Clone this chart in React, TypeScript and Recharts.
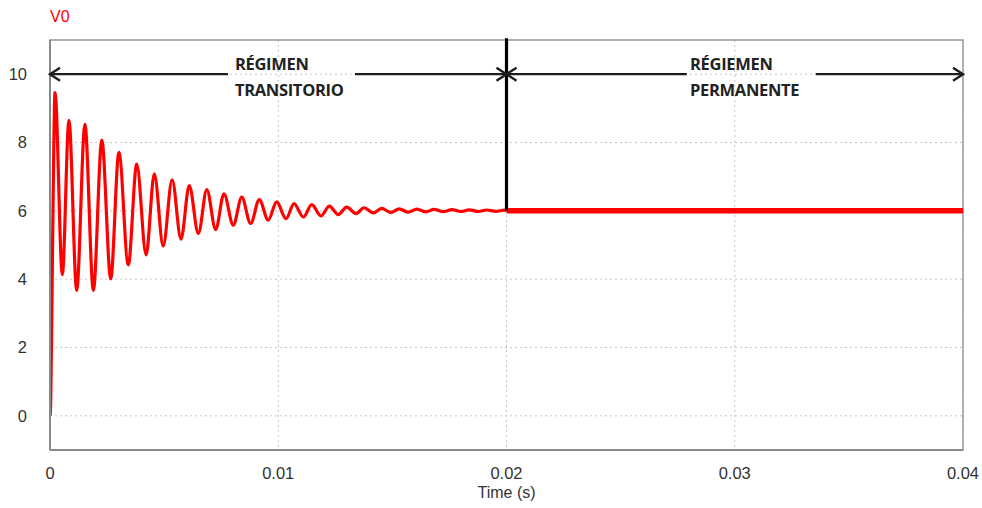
import React from 'react';
import {
  LineChart,
  Line,
  XAxis,
  YAxis,
  CartesianGrid,
  ReferenceLine,
  ReferenceDot,
  ReferenceArea,
} from 'recharts';

// Transient response (time in s, voltage in V)
const transientTime = [
  0, 0.00003, 0.00008, 0.00014, 0.00022, 0.00054, 0.00083, 0.00117, 0.00153, 0.0019,
  0.00227, 0.00266, 0.00302, 0.00343, 0.0038, 0.00421, 0.00457, 0.00496, 0.00535, 0.00574,
  0.0061, 0.0065, 0.00687, 0.00726, 0.00762, 0.00803, 0.0084, 0.00879, 0.00917, 0.00956,
  0.00993, 0.01034, 0.01069, 0.0111, 0.01147, 0.01187, 0.01224, 0.01263, 0.013, 0.01341,
  0.01376, 0.01416, 0.01453, 0.01494, 0.0153, 0.0157, 0.01607, 0.01647, 0.01682, 0.01723,
  0.0176, 0.01801, 0.01836, 0.01876, 0.01913, 0.01954, 0.01989, 0.02,
];
const transientV = [
  0, 0.4, 3.0, 6.5, 9.46, 4.13, 8.65, 3.67, 8.53, 3.67,
  8.07, 4.01, 7.71, 4.42, 7.37, 4.71, 7.08, 4.97, 6.91, 5.17,
  6.74, 5.34, 6.62, 5.45, 6.5, 5.58, 6.4, 5.63, 6.33, 5.73,
  6.26, 5.77, 6.21, 5.82, 6.18, 5.85, 6.14, 5.89, 6.11, 5.92,
  6.09, 5.94, 6.07, 5.95, 6.06, 5.96, 6.05, 5.97, 6.04, 5.975,
  6.035, 5.98, 6.03, 5.98, 6.025, 5.985, 6.02, 6.0,
];

// Steady state
const steadyTime = [0.02, 0.04];
const steadyV = [6.0, 6.0];

// Axis ticks
const xTicks = [0, 0.01, 0.02, 0.03, 0.04];
const yTicks = [0, 2, 4, 6, 8, 10];

// Annotation positions (data coordinates)
const arrowY = 10;
const transLabel = { x: 0.0081, lines: ['RÉGIMEN', 'TRANSITORIO'] };
const permLabel = { x: 0.02804, lines: ['RÉGIEMEN', 'PERMANENTE'] };
const leftArrowSegments = [
  [0, 0.0078],
  [0.01336, 0.02],
];
const rightArrowSegments = [
  [0.02, 0.0279],
  [0.03355, 0.04],
];

const transientData = transientTime.map((t, i) => ({ t, v: transientV[i] }));
const steadyData = steadyTime.map((t, i) => ({ t, v: steadyV[i] }));

const ARROW_COLOR = '#1e1e1e';
const AXIS_FONT = "'Liberation Sans', Arial, sans-serif";

const ArrowHead = (dir: 'left' | 'right' | 'both') => (props: any) => {
  const { cx, cy } = props;
  const L = 10;
  const H = 6.5;
  const paths: string[] = [];
  if (dir === 'left' || dir === 'both') {
    paths.push(`M ${cx + L} ${cy - H} L ${cx} ${cy} L ${cx + L} ${cy + H}`);
  }
  if (dir === 'right' || dir === 'both') {
    paths.push(`M ${cx - L} ${cy - H} L ${cx} ${cy} L ${cx - L} ${cy + H}`);
  }
  return (
    <g>
      {paths.map((d, i) => (
        <path key={i} d={d} fill="none" stroke={ARROW_COLOR} strokeWidth={2.4} />
      ))}
    </g>
  );
};

const TwoLineLabel = (lines: string[]) => (props: any) => {
  const { cx, cy } = props;
  const common = {
    fontFamily: "'Open Sans', sans-serif",
    fontWeight: 700,
    fontSize: 16.5,
    fill: '#222',
    letterSpacing: -0.3,
  } as const;
  return (
    <g>
      <text x={cx} y={cy - 4} {...common}>
        {lines[0]}
      </text>
      <text x={cx} y={cy + 22} {...common}>
        {lines[1]}
      </text>
    </g>
  );
};

export default function App() {
  return (
    <div style={{ position: 'absolute', left: 0, top: 0, width: 982, height: 508, background: '#fff' }}>
      <div
        style={{
          position: 'absolute',
          left: 50,
          top: 8,
          color: '#ff0000',
          fontFamily: AXIS_FONT,
          fontSize: 16,
          lineHeight: '18px',
        }}
      >
        V0
      </div>
      <LineChart width={982} height={508} margin={{ top: 40, right: 19, bottom: 18, left: 10 }}>
        <CartesianGrid stroke="#c4c4c4" strokeDasharray="2 3" />
        <XAxis
          type="number"
          dataKey="t"
          domain={[0, 0.04]}
          ticks={xTicks}
          allowDataOverflow
          height={40}
          tickLine={false}
          tickSize={0}
          tickMargin={17}
          axisLine={{ stroke: '#8a8a8a', strokeWidth: 2 }}
          tick={{ fontSize: 16.5, fill: '#333', fontFamily: AXIS_FONT }}
          label={{
            value: 'Time (s)',
            position: 'insideBottom',
            offset: -8,
            style: { fontSize: 16, fill: '#333', fontFamily: AXIS_FONT },
          }}
        />
        <YAxis
          type="number"
          domain={[-1, 11]}
          ticks={yTicks}
          allowDataOverflow
          width={40}
          tickLine={false}
          tickSize={0}
          tickMargin={23}
          axisLine={{ stroke: '#8a8a8a', strokeWidth: 2 }}
          tick={{ fontSize: 16.5, fill: '#333', fontFamily: AXIS_FONT }}
        />
        <ReferenceArea x1={0} x2={0.04} y1={-1} y2={11} fill="none" stroke="#9a9a9a" strokeWidth={1.5} />
        <Line
          data={transientData}
          dataKey="v"
          type="monotone"
          stroke="#ff0000"
          strokeWidth={3.2}
          dot={false}
          isAnimationActive={false}
        />
        <Line
          data={steadyData}
          dataKey="v"
          type="linear"
          stroke="#ff0000"
          strokeWidth={5.5}
          dot={false}
          isAnimationActive={false}
        />
        {leftArrowSegments.concat(rightArrowSegments).map(([a, b], i) => (
          <ReferenceLine
            key={'seg' + i}
            segment={[
              { x: a, y: arrowY },
              { x: b, y: arrowY },
            ]}
            stroke={ARROW_COLOR}
            strokeWidth={2.4}
            ifOverflow="visible"
          />
        ))}
        <ReferenceLine
          segment={[
            { x: 0.02, y: 6 },
            { x: 0.02, y: 11.05 },
          ]}
          stroke="#000"
          strokeWidth={3.2}
          ifOverflow="visible"
        />
        <ReferenceDot x={0} y={arrowY} r={0} ifOverflow="visible" shape={ArrowHead('left')} />
        <ReferenceDot x={0.02} y={arrowY} r={0} ifOverflow="visible" shape={ArrowHead('both')} />
        <ReferenceDot x={0.04} y={arrowY} r={0} ifOverflow="visible" shape={ArrowHead('right')} />
        <ReferenceDot x={transLabel.x} y={arrowY} r={0} ifOverflow="visible" shape={TwoLineLabel(transLabel.lines)} />
        <ReferenceDot x={permLabel.x} y={arrowY} r={0} ifOverflow="visible" shape={TwoLineLabel(permLabel.lines)} />
      </LineChart>
    </div>
  );
}
